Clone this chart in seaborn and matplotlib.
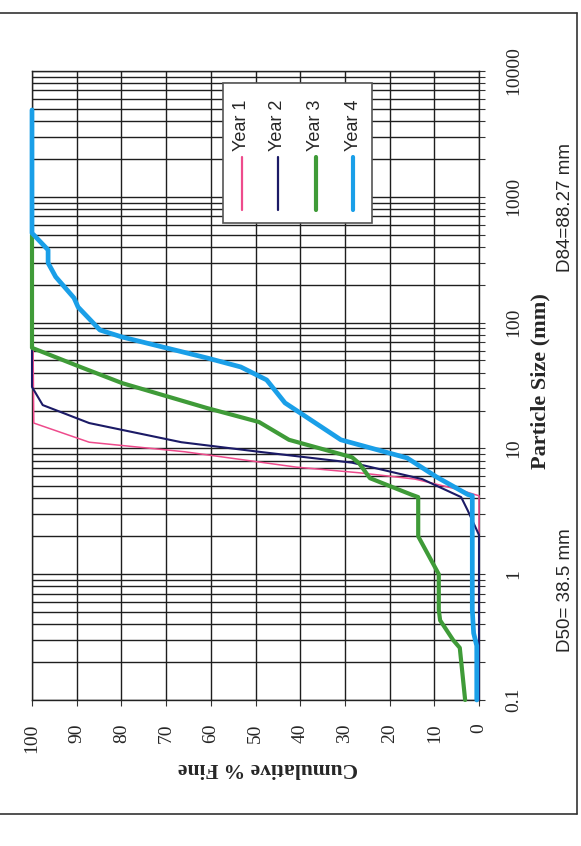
import numpy as np
import pandas as pd
import matplotlib
matplotlib.use("Agg")
import matplotlib.pyplot as plt
from matplotlib.ticker import LogLocator, NullFormatter
from matplotlib.patches import Rectangle
from matplotlib.lines import Line2D
import seaborn as sns

size_y1 = [0.1, 4.2, 4.7, 5.7, 6.4, 7.1, 9.4, 11.2, 15.9, 500]
pct_y1 = [0, 0, 4.5, 14.3, 26.8, 40.9, 65.8, 87.2, 99.6, 100]

size_y2 = [0.1, 2.05, 3.2, 4.1, 5.7, 7.7, 9.4, 11.2, 15.9, 22.1, 30.8, 500]
pct_y2 = [0, 0, 2.5, 4.0, 12.7, 28.4, 49.2, 66.6, 87.2, 97.6, 100, 100]

size_y3 = [0.1, 0.26, 0.3, 0.43, 0.52, 1.0, 2.0, 4.1, 4.3, 5.8, 7.6, 8.5,
           11.7, 16.2, 20.9, 33, 44, 63, 500]
pct_y3 = [3.1, 4.3, 5.8, 8.7, 9, 9, 13.6, 13.6, 15.2, 24.4, 26.8, 28.4,
          42.5, 49.2, 60.8, 79.8, 88.9, 100, 100]

size_y4 = [0.1, 0.27, 0.34, 0.52, 4.2, 4.3, 5.9, 8.4, 11.7, 23, 35, 44.4,
           52.3, 76.9, 87.3, 133, 157, 231, 298, 378, 515, 4900]
pct_y4 = [0.5, 0.5, 1.2, 1.5, 1.5, 2.5, 9.4, 16.1, 30.9, 43.4, 47.5, 53.3,
          60.8, 79.9, 84.8, 89.7, 90.6, 94.7, 96.4, 96.4, 100, 100]

years = ["Year 1", "Year 2", "Year 3", "Year 4"]
colors = ["#ee4b8c", "#1b1a66", "#3f9b38", "#1a9fe8"]
widths = [1.1, 1.5, 3.0, 3.4]

size_ticks = [0.1, 1, 10, 100, 1000, 10000]
size_labels = ["0.1", "1", "10", "100", "1000", "10000"]
pct_ticks = list(range(0, 101, 10))

sns.set_style("ticks")
plt.rcParams['font.family'] = ['Liberation Serif', 'DejaVu Serif']

W, H = 581, 846
fig = plt.figure(figsize=(W / 100, H / 100), dpi=100)
# chart is printed turned a quarter turn: size runs up the page, % fine runs right-to-left
ax = fig.add_axes([32 / W, 1 - 700 / H, 447 / W, 629 / H])
ax.set_yscale("log")

all_sizes = [size_y1, size_y2, size_y3, size_y4]
all_pcts = [pct_y1, pct_y2, pct_y3, pct_y4]
for sizes, pcts, c, lw in zip(all_sizes, all_pcts, colors, widths):
    df = pd.DataFrame({"size": sizes, "pct": pcts})
    sns.lineplot(data=df, x="pct", y="size", ax=ax, color=c, linewidth=lw,
                 estimator=None, sort=False, orient="y", clip_on=False, zorder=3)

ax.set_xlim(100, 0)
ax.set_ylim(0.1, 10000)
ax.set_xlabel("")
ax.set_ylabel("")

ax.set_xticks(pct_ticks)
ax.set_yticks(size_ticks, labels=size_labels)
ax.yaxis.set_minor_locator(LogLocator(base=10, subs=np.arange(2, 10)))
ax.yaxis.set_minor_formatter(NullFormatter())
ax.yaxis.tick_right()

ax.grid(which="both", axis="y", color="#1e1e1e", lw=1.0)
ax.grid(which="major", axis="x", color="#1e1e1e", lw=1.0)
ax.set_axisbelow(True)
for sp in ax.spines.values():
    sp.set_color("#222222")
    sp.set_linewidth(1.0)

ax.tick_params(axis="y", which="both", direction="out", length=4, width=0.8,
               color="#333333", right=True, left=False,
               labelright=True, labelleft=False)
ax.tick_params(axis="y", which="major", labelsize=14, labelrotation=90, pad=15)
ax.tick_params(axis="x", which="major", direction="out", length=4, width=0.8,
               color="#333333", labelsize=14, labelrotation=90, pad=13)
for lab in ax.get_yticklabels():
    lab.set_va("center")

# axis titles (turned with the page)
fig.text(540 / W, 1 - 381 / H, "Particle Size (mm)", rotation=90, fontsize=16,
         fontweight="bold", ha="center", va="center")
fig.text(268 / W, 1 - 768 / H, "Cumulative % Fine", rotation=180, fontsize=15.5,
         fontweight="bold", ha="center", va="center")
fig.text(566 / W, 1 - 207 / H, "D84=88.27 mm", rotation=90, fontsize=13.5,
         family="Liberation Sans", ha="center", va="center")
fig.text(566 / W, 1 - 590 / H, "D50= 38.5 mm", rotation=90, fontsize=13.5,
         family="Liberation Sans", ha="center", va="center")

# legend, drawn turned like the rest of the page
def ax_x(px):
    return (px - 32) / 447

def ax_y(py):
    return (700 - py) / 629

ax.add_patch(Rectangle((ax_x(223), ax_y(223)), ax_x(372) - ax_x(223),
                       ax_y(83) - ax_y(223), transform=ax.transAxes,
                       facecolor="white", edgecolor="#555555", lw=1.2, zorder=5))
leg_x = [242, 278, 316, 353]
leg_w = [1.6, 1.6, 3.0, 3.0]
for px, name, c, lw in zip(leg_x, years, colors, leg_w):
    ax.add_line(Line2D([ax_x(px), ax_x(px)], [ax_y(210), ax_y(157)],
                       transform=ax.transAxes, color=c, lw=lw, zorder=6))
    ax.text(ax_x(px), ax_y(151), name, transform=ax.transAxes, rotation=90,
            fontsize=13, family="Liberation Sans", ha="center", va="bottom",
            zorder=6)

# page frame from the scan
frame = dict(color="#333333", lw=1.2)
fig.add_artist(Line2D([0, 577 / W], [1 - 13 / H, 1 - 13 / H], **frame))
fig.add_artist(Line2D([577 / W, 577 / W], [1 - 13 / H, 1 - 814 / H], **frame))
fig.add_artist(Line2D([0, 577 / W], [1 - 814 / H, 1 - 814 / H], **frame))

fig.savefig("out.png", dpi=100)
